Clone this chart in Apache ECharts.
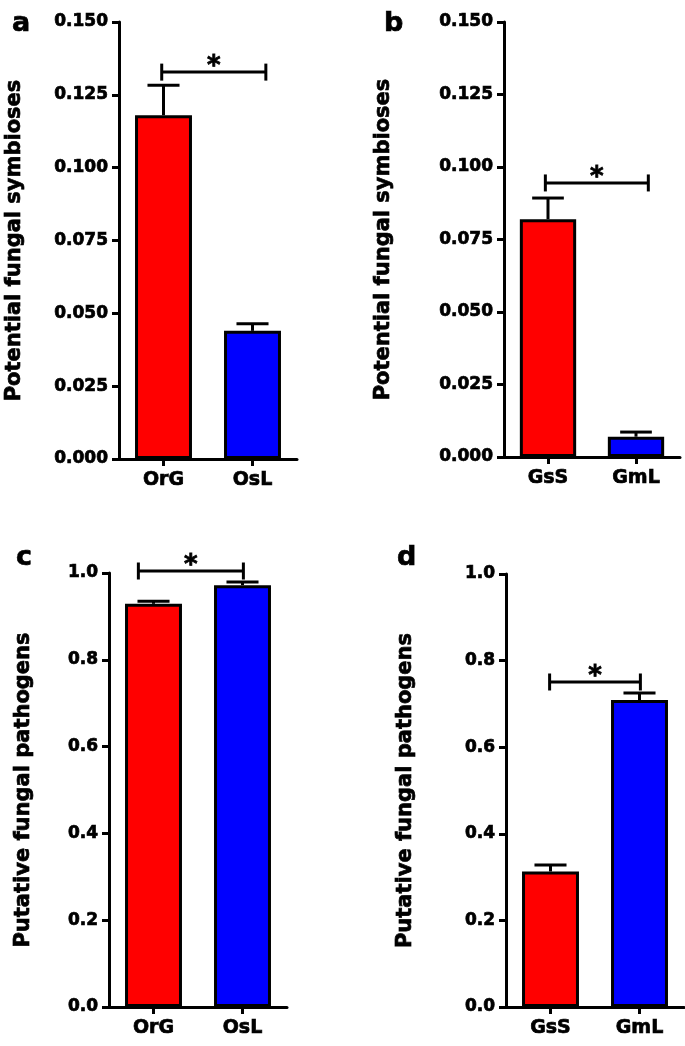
<!DOCTYPE html>
<html>
<head>
<meta charset="utf-8">
<script src="https://cdn.jsdelivr.net/npm/echarts@6/dist/echarts.min.js"></script>
<style>
html,body{margin:0;padding:0;background:#fff;}
#chart{width:685px;height:1046px;}
</style>
</head>
<body>
<div id="chart"></div>
<script>
// ---- data ----
const catsA = ['OrG', 'OsL'];
const meanA = [0.118, 0.044];
const semA  = [0.0103, 0.0024];
const bracketA = [-0.02, 1.15, 0.1328];

const catsB = ['GsS', 'GmL'];
const meanB = [0.082, 0.007];
const semB  = [0.0073, 0.0016];
const bracketB = [-0.03, 1.14, 0.0945];

const catsC = ['OrG', 'OsL'];
const meanC = [0.929, 0.972];
const semC  = [0.006, 0.007];
const bracketC = [-0.17, 1.01, 1.0046];

const catsD = ['GsS', 'GmL'];
const meanD = [0.313, 0.709];
const semD  = [0.015, 0.016];
const bracketD = [-0.01, 1.01, 0.7506];

const yTitleTop = 'Potential fungal symbioses';
const yTitleBottom = 'Putative fungal pathogens';
const panelLetters = ['a', 'b', 'c', 'd'];
const barColors = ['#FF0000', '#0000FF'];

// ---- styling ----
const FONT = 'DejaVu Sans';
const LW = 3;
const HEAVY = {textBorderColor:'#000', textBorderWidth:0.7};

const panels = [
  {cats: catsA, mean: meanA, sem: semA, br: bracketA, grid: {left:119, top:22, width:178, height:437}, max:0.15, interval:0.025, dec:3, title:yTitleTop, gap:94},
  {cats: catsB, mean: meanB, sem: semB, br: bracketB, grid: {left:504, top:22, width:176, height:435}, max:0.15, interval:0.025, dec:3, title:yTitleTop, gap:110},
  {cats: catsC, mean: meanC, sem: semC, br: bracketC, grid: {left:109, top:573, width:178, height:434}, max:1.0, interval:0.2, dec:1, title:yTitleBottom, gap:75},
  {cats: catsD, mean: meanD, sem: semD, br: bracketD, grid: {left:506, top:574, width:178, height:433}, max:1.0, interval:0.2, dec:1, title:yTitleBottom, gap:90}
];

const grids = [], xAxes = [], yAxes = [], series = [];
panels.forEach((p, i) => {
  grids.push(Object.assign({containLabel:false}, p.grid));
  xAxes.push({
    type:'category', gridIndex:i, data:p.cats,
    axisLine:{show:true, onZero:false, lineStyle:{color:'#000', width:LW}},
    axisTick:{show:true, alignWithLabel:true, length:7, lineStyle:{color:'#000', width:LW}},
    axisLabel:Object.assign({color:'#000', fontFamily:FONT, fontWeight:'bold', fontSize:19, margin:12}, HEAVY),
    splitLine:{show:false}
  });
  yAxes.push({
    type:'value', gridIndex:i, min:0, max:p.max, interval:p.interval,
    name:p.title, nameLocation:'middle', nameGap:p.gap,
    nameTextStyle:Object.assign({color:'#000', fontFamily:FONT, fontWeight:'bold', fontSize:21}, HEAVY),
    axisLine:{show:true, onZero:false, lineStyle:{color:'#000', width:LW}},
    axisTick:{show:true, length:7, lineStyle:{color:'#000', width:LW}},
    axisLabel:Object.assign({color:'#000', fontFamily:FONT, fontWeight:'bold', fontSize:17, margin:11,
      formatter: v => v.toFixed(p.dec)}, HEAVY),
    splitLine:{show:false}
  });
  series.push({
    type:'bar', xAxisIndex:i, yAxisIndex:i, barWidth:'64%',
    data: p.mean.map((v, k) => ({value:v, itemStyle:{color:barColors[k], borderColor:'#000', borderWidth:LW}})),
    z:2, animation:false
  });
  series.push({
    type:'custom', xAxisIndex:i, yAxisIndex:i, z:3, animation:false, clip:false,
    data: p.mean.map((v, k) => [k, v, v + p.sem[k]]),
    renderItem: (params, api) => {
      const p0 = api.coord([api.value(0), api.value(1)]);
      const p1 = api.coord([api.value(0), api.value(2)]);
      const bw = api.size([1, 0])[0];
      const hw = bw * 0.18;
      const st = {stroke:'#000', lineWidth:LW};
      return {type:'group', children:[
        {type:'line', shape:{x1:p0[0], y1:p0[1], x2:p1[0], y2:p1[1]}, style:st},
        {type:'line', shape:{x1:p1[0]-hw, y1:p1[1], x2:p1[0]+hw, y2:p1[1]}, style:st}
      ]};
    }
  });
});

// hidden value axes for significance brackets
panels.forEach((p, i) => {
  xAxes.push({type:'value', gridIndex:i, min:-0.5, max:1.5, show:false});
  series.push({
    type:'custom', xAxisIndex:4 + i, yAxisIndex:i, z:4, animation:false, clip:false,
    data:[p.br],
    renderItem: (params, api) => {
      const a = api.coord([api.value(0), api.value(2)]);
      const b = api.coord([api.value(1), api.value(2)]);
      const st = {stroke:'#000', lineWidth:LW};
      const t = 8.5;
      return {type:'group', children:[
        {type:'line', shape:{x1:a[0], y1:a[1], x2:b[0], y2:b[1]}, style:st},
        {type:'line', shape:{x1:a[0], y1:a[1]-t, x2:a[0], y2:a[1]+t}, style:st},
        {type:'line', shape:{x1:b[0], y1:b[1]-t, x2:b[0], y2:b[1]+t}, style:st},
        {type:'text', x:(a[0]+b[0])/2, y:a[1]+8, style:{text:'*', fill:'#000', stroke:'#000', lineWidth:0.8, font:'bold 26px "DejaVu Sans"', align:'center', verticalAlign:'bottom'}}
      ]};
    }
  });
});

const titles = [
  {text:panelLetters[0], left:12, top:10},
  {text:panelLetters[1], left:384, top:10},
  {text:panelLetters[2], left:16, top:544},
  {text:panelLetters[3], left:397, top:544}
].map(t => Object.assign(t, {padding:0, textStyle:Object.assign({color:'#000', fontFamily:FONT, fontWeight:'bold', fontSize:27}, HEAVY)}));

const chart = echarts.init(document.getElementById('chart'), null, {renderer:'canvas'});
chart.setOption({
  animation:false,
  backgroundColor:'#fff',
  title: titles,
  grid: grids,
  xAxis: xAxes,
  yAxis: yAxes,
  series: series
});
</script>
</body>
</html>
